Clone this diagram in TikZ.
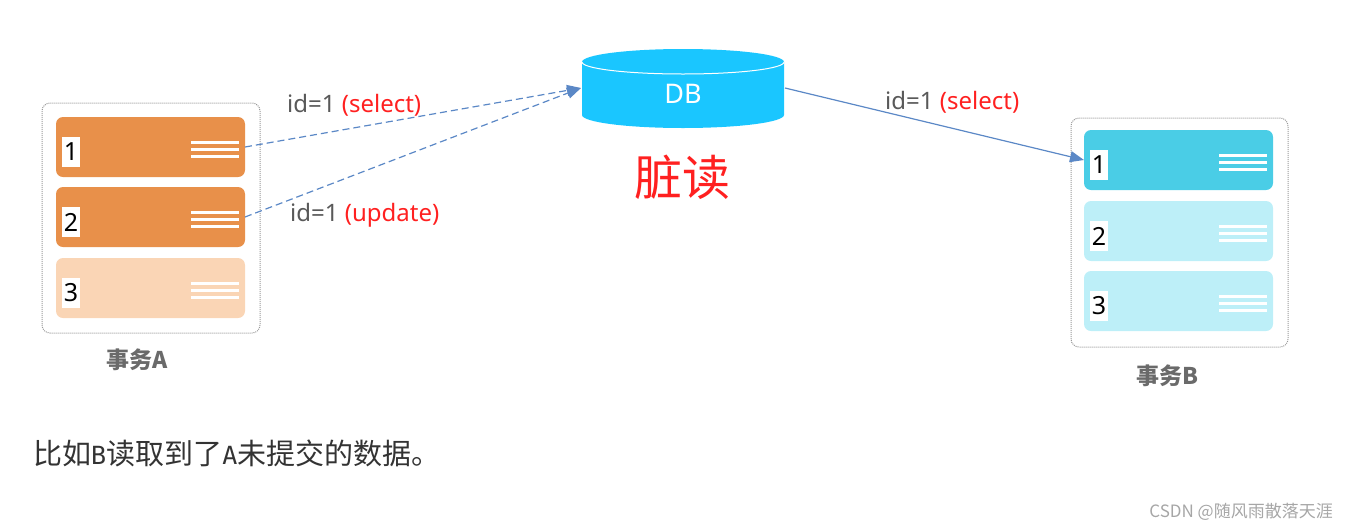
\documentclass[tikz,border=0pt]{standalone}
\usepackage{fontspec}
\setmainfont{Noto Sans}
\newfontfamily\cjk{Noto Sans CJK SC}
\newfontfamily\codefont{DejaVu Sans Mono}
\usetikzlibrary{arrows.meta}
\definecolor{org}{HTML}{E8904A}
\definecolor{lorg}{HTML}{FAD5B5}
\definecolor{cy}{HTML}{4ACDE6}
\definecolor{lcy}{HTML}{BDEFF8}
\definecolor{dbc}{HTML}{1AC6FF}
\definecolor{arr}{HTML}{5B88C6}
\definecolor{gtx}{HTML}{595959}
\definecolor{rtx}{HTML}{FF2020}
\tikzset{
 grp/.style={draw=gray!80,densely dotted,line width=1pt,rounded corners=8pt},
 card/.style={rounded corners=7pt,draw=none},
 badge/.style={fill=white,inner sep=0pt,minimum width=18pt,minimum height=30pt,font=\fontsize{25}{25}\selectfont},
 lbl/.style={font=\fontsize{24}{26}\selectfont,text=gtx,inner sep=0pt},
 conn/.style={arr,line width=1.2pt,-{Triangle[length=14pt,width=11pt]}},
}
\newcommand{\mkcard}[5]{% name, x0,y0,fill
 \fill[card,#4] (#2,#3) rectangle ++(189,60);
 \node[badge] at (#2+15,#3+35) {#5};
 \foreach \dy in {24,31,38} \fill[white] (#2+135,#3+\dy) rectangle ++(48,3);
 \coordinate (#1) at (#2,#3+30);
}
\begin{document}
\begin{tikzpicture}[x=1pt,y=-1pt]
\useasboundingbox (0,0) rectangle (1347,531);
% left group
\draw[grp] (42,103) rectangle (260,333);
\mkcard{a1}{56}{117}{org}{1}
\mkcard{a2}{56}{187}{org}{2}
\mkcard{a3}{56}{258}{lorg}{3}
\coordinate (a1e) at (245,147);
\coordinate (a2e) at (245,217);
\node[font=\cjk\fontsize{23}{23}\selectfont\bfseries,text=gtx!90] (ta) at (137,360) {事务A};
% right group
\draw[grp] (1071,118) rectangle (1288,347);
\mkcard{b1}{1084}{130}{cy}{1}
\mkcard{b2}{1084}{201}{lcy}{2}
\mkcard{b3}{1084}{271}{lcy}{3}
\node[font=\cjk\fontsize{23}{23}\selectfont\bfseries,text=gtx!90] (tb) at (1167,376) {事务B};
% DB
\fill[dbc] (582,62) -- (582,115) arc[start angle=180,end angle=0,x radius=101,y radius=13] -- (784,62) -- cycle;
\fill[dbc] (683,62) ellipse[x radius=101,y radius=13];
\draw[white,line width=1pt] (582,62) arc[start angle=180,end angle=0,x radius=101,y radius=12];
\node[text=white,font=\fontsize{27}{27}\selectfont] (db) at (683,94) {DB};
\coordinate (dbl) at (581,88);
\coordinate (dbr) at (785,88);
\node[text=rtx,font=\cjk\fontsize{48}{48}\selectfont] (dr) at (682,177) {脏读};
% connectors
\draw[conn,dash pattern=on 7pt off 4pt] (a1e) -- (dbl);
\draw[conn,dash pattern=on 7pt off 4pt] (a2e) -- (dbl);
\draw[conn] (dbr) -- (b1);
\node[lbl,anchor=west] at (287,105) {id=1 \textcolor{rtx}{(select)}};
\node[lbl,anchor=west] at (290,215) {id=1 \textcolor{rtx}{(update)}};
\node[lbl,anchor=west] at (885,102) {id=1 \textcolor{rtx}{(select)}};
% bottom text
\node[anchor=west,inner sep=0pt,text=black!80,font=\fontsize{29}{29}\selectfont] at (33,453) {\cjk 比如{\codefont\fontsize{25}{25}\selectfont B}读取到了{\codefont\fontsize{25}{25}\selectfont A}未提交的数据。};
\node[anchor=east,inner sep=0pt,text=gray!70,font=\cjk\fontsize{17}{17}\selectfont] at (1333,512) {CSDN @随风雨散落天涯};
\end{tikzpicture}
\end{document}
